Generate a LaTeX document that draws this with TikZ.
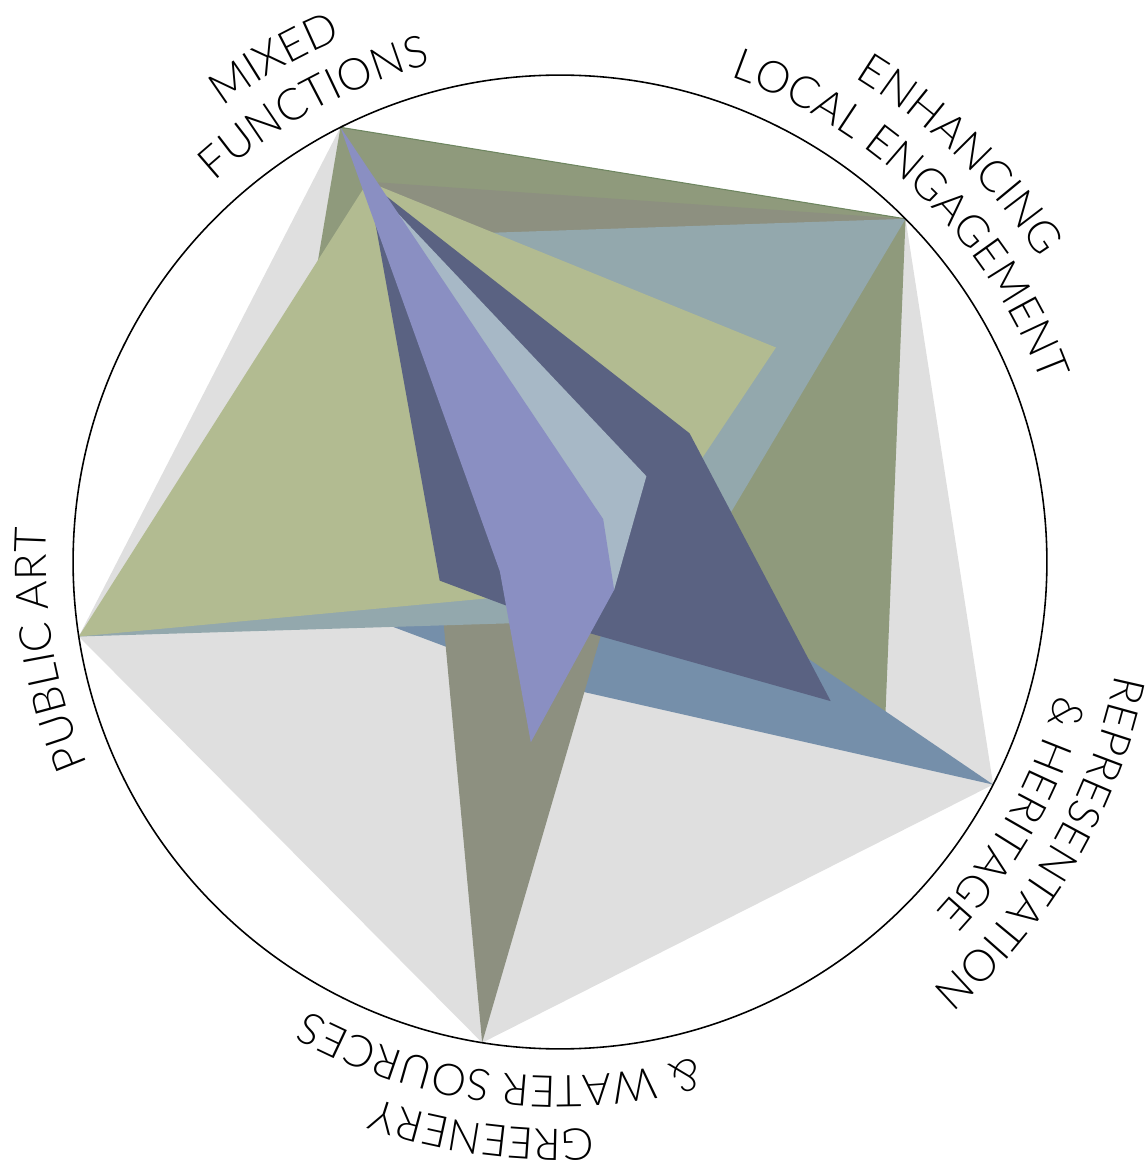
\documentclass[tikz,border=0pt]{standalone}
\usepackage{fontspec}
\setmainfont{Lato}[UprightFont={* Light}]
\usetikzlibrary{decorations.text}
\definecolor{cGray}{HTML}{DFDFDF}
\definecolor{cOlive}{HTML}{8F9A7C}
\definecolor{cOliveLine}{HTML}{6E8660}
\definecolor{cSteel}{HTML}{758FAA}
\definecolor{cGreyOlive}{HTML}{8D9080}
\definecolor{cBlueGray}{HTML}{93A8AD}
\definecolor{cLightGreen}{HTML}{B2BB91}
\definecolor{cNavy}{HTML}{5A6282}
\definecolor{cLightBlue}{HTML}{A7B8C6}
\definecolor{cLavender}{HTML}{8A8FC2}
\newcommand{\lblfont}{\fontsize{25pt}{30pt}\selectfont}
% series polygon: colour, values on axes M, E, R, G, P (0..8)
\newcommand{\radarpoly}[6]{%
  \fill[#1] (116.8:{#2*60.875}) -- (44.8:{#3*60.875}) -- (-27.2:{#4*60.875})
    -- (-99.2:{#5*60.875}) -- (188.8:{#6*60.875}) -- cycle;}
\tikzset{
  arclabel/.style={decorate, decoration={text along path, text align=center, text={#1}}}
}
\begin{document}
\begin{tikzpicture}[x=0.02cm, y=0.02cm]
\useasboundingbox (-560,-600) rectangle (588,562);
% series, back to front
\radarpoly{cGray}{8}{8}{8}{8}{8}
\radarpoly{cOlive}{8}{8}{6}{1}{5}
\draw[cOliveLine, line width=0.6pt] (116.8:487) -- (44.8:487);
\radarpoly{cSteel}{1}{1}{8}{2}{4}
\radarpoly{cGreyOlive}{7}{8}{1}{8}{2}
\radarpoly{cBlueGray}{6}{8}{2}{1}{8}
\radarpoly{cLightGreen}{7}{5}{1}{0.5}{8}
\radarpoly{cNavy}{7}{3}{5}{1}{2}
\radarpoly{cLightBlue}{7}{2}{1}{0.8}{0.8}
\radarpoly{cLavender}{8}{1}{1}{3}{1}
% outer circle
\draw[black, line width=0.9pt] (0,0) circle[radius=9.74cm];
% labels along the circle (clockwise, tops outward)
\path[arclabel={|\lblfont|MIXED}] (159.6:567) arc[start angle=159.6, end angle=79.6, radius=11.34cm];
\path[arclabel={|\lblfont|FUNCTIONS}] (158.4:514) arc[start angle=158.4, end angle=78.4, radius=10.28cm];
\path[arclabel={|\lblfont|ENHANCING}] (85.5:567) arc[start angle=85.5, end angle=5.5, radius=11.34cm];
\path[arclabel={|\lblfont|LOCAL ENGAGEMENT}] (85.5:514) arc[start angle=85.5, end angle=5.5, radius=10.28cm];
\path[arclabel={|\lblfont|REPRESENTATION}] (9.8:567) arc[start angle=9.8, end angle=-70.2, radius=11.34cm];
\path[arclabel={|\lblfont|{\&} HERITAGE}] (11:514) arc[start angle=11, end angle=-69, radius=10.28cm];
\path[arclabel={|\lblfont|GREENERY}] (-57.8:567) arc[start angle=-57.8, end angle=-137.8, radius=11.34cm];
\path[arclabel={|\lblfont|{\&} WATER SOURCES}] (-57:514) arc[start angle=-57, end angle=-137, radius=10.28cm];
\path[arclabel={|\lblfont|PUBLIC ART}] (229.7:514) arc[start angle=229.7, end angle=149.7, radius=10.28cm];
\end{tikzpicture}
\end{document}
